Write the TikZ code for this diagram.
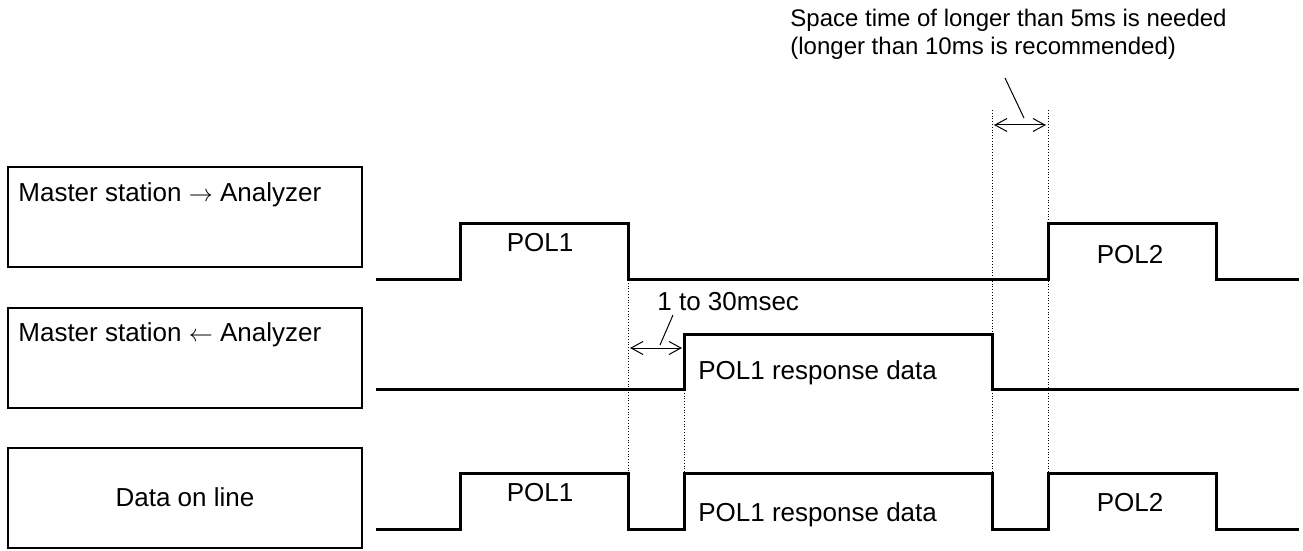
\documentclass[tikz,border=0pt]{standalone}
\usepackage{fontspec}
\setmainfont{Liberation Sans}
\usetikzlibrary{arrows.meta}

\tikzset{
  chan/.style={draw, line width=1pt, minimum width=177pt, minimum height=50pt, inner sep=0pt},
  txt/.style={inner sep=0pt},
  wave/.style={line width=1.5pt, line join=miter},
  guide/.style={densely dotted, line width=0.4pt},
  gap/.style={<->, >={Straight Barb[length=6pt,width=6.5pt]}, line width=0.5pt}
}

\begin{document}
\begin{tikzpicture}[x=0.5pt, y=-0.5pt, font=\fontsize{13}{15}\selectfont]
  \useasboundingbox (0,0) rectangle (1303,551);

  \node[chan] (tx) at (185,217) {};
  \node[chan] (rx) at (185,357.5) {};
  \node[chan] (line) at (185,497.5) {};
  \node[txt, anchor=west] (txlbl) at (18,195) {Master station $\rightarrow$ Analyzer};
  \node[txt, anchor=west] (rxlbl) at (18,335) {Master station $\leftarrow$ Analyzer};
  \node[txt] (linelbl) at (line.center) {Data on line};

  \path[guide]
  (628,280) edge (628,473)
  (684,334) edge (684,473)
  (992,110) edge (992,473)
  (1048,110) edge (1048,473)
  ;

  \draw[wave] (376,280) -- (460,280) -- (460,224) -- (628,224) -- (628,280) -- (1048,280)
    -- (1048,224) -- (1216,224) -- (1216,280) -- (1299,280);
  \draw[wave] (376,389) -- (684,389) -- (684,334) -- (992,334) -- (992,389) -- (1299,389);
  \draw[wave] (376,529) -- (460,529) -- (460,473) -- (628,473) -- (628,529) -- (684,529)
    -- (684,473) -- (992,473) -- (992,529) -- (1048,529) -- (1048,473) -- (1216,473)
    -- (1216,529) -- (1299,529);

  \node[txt] (pol1a) at (540,243) {POL1};
  \node[txt] (pol2a) at (1130,255) {POL2};
  \node[txt, anchor=west] (resp) at (698,373) {POL1 response data};
  \node[txt] (pol1b) at (540,493) {POL1};
  \node[txt, anchor=west] (respb) at (698,515) {POL1 response data};
  \node[txt] (pol2b) at (1130,503) {POL2};

  \node[txt, anchor=west] (wait) at (657,302) {1 to 30msec};
  \coordinate (waitL) at (630,348);
  \coordinate (waitR) at (682,348);
  \draw[gap] (waitL) -- (waitR);
  \draw[line width=0.5pt] (660,345) -- (673,315);

  \node[txt, anchor=base west, font=\fontsize{12}{14}\selectfont] (space) at (790,27) {Space time of longer than 5ms is needed};
  \node[txt, anchor=base west, font=\fontsize{12}{14}\selectfont] (spacerec) at (790,55) {(longer than 10ms is recommended)};
  \coordinate (spaceL) at (994,125);
  \coordinate (spaceR) at (1046,125);
  \draw[gap] (spaceL) -- (spaceR);
  \draw[line width=0.5pt] (1024,118) -- (1005,78);
\end{tikzpicture}
\end{document}
